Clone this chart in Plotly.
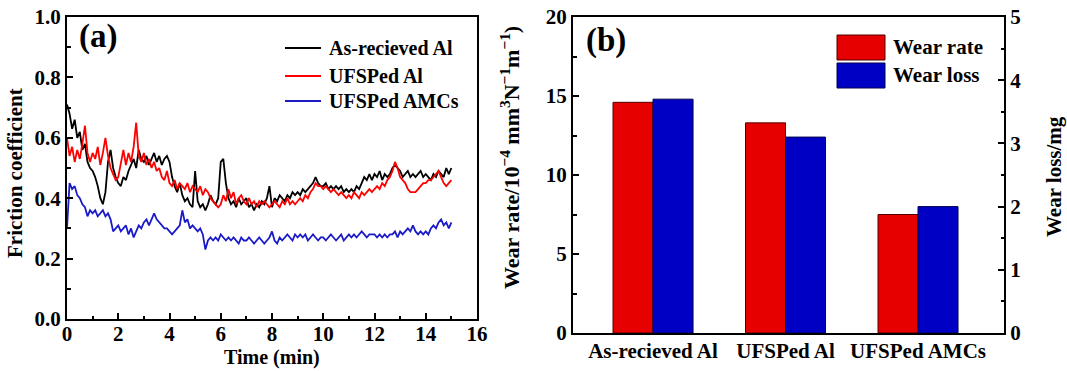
import plotly.graph_objects as go

# ---- (a) friction coefficient vs sliding time, sampled every 0.1 min ----
time_min = [round(0.1 * i, 1) for i in range(151)]

as_received_al = [
    0.71, 0.68, 0.63, 0.66, 0.60, 0.62, 0.56, 0.58, 0.52, 0.50,
    0.49, 0.47, 0.44, 0.40, 0.38, 0.42, 0.52, 0.56, 0.50, 0.47,
    0.45, 0.44, 0.47, 0.46, 0.49, 0.51, 0.53, 0.50, 0.56, 0.53,
    0.52, 0.54, 0.51, 0.53, 0.55, 0.52, 0.54, 0.51, 0.53, 0.54,
    0.52, 0.47, 0.44, 0.42, 0.45, 0.41, 0.39, 0.40, 0.38, 0.37,
    0.49, 0.39, 0.37, 0.38, 0.36, 0.38, 0.41, 0.39, 0.38, 0.40,
    0.52, 0.53, 0.45, 0.40, 0.38, 0.39, 0.37, 0.40, 0.38, 0.39,
    0.40, 0.37, 0.38, 0.36, 0.38, 0.37, 0.39, 0.38, 0.40, 0.44,
    0.37, 0.40, 0.39, 0.41, 0.40, 0.39, 0.41, 0.40, 0.42, 0.41,
    0.42, 0.41, 0.43, 0.42, 0.43, 0.44, 0.45, 0.47, 0.45, 0.44,
    0.44, 0.45, 0.43, 0.44, 0.43, 0.44, 0.43, 0.44, 0.42, 0.43,
    0.42, 0.43, 0.42, 0.44, 0.43, 0.45, 0.47, 0.46, 0.48, 0.46,
    0.48, 0.47, 0.49, 0.46, 0.48, 0.47, 0.48, 0.50, 0.51, 0.50,
    0.49, 0.47, 0.48, 0.49, 0.47, 0.48, 0.47, 0.48, 0.49, 0.47,
    0.48, 0.47, 0.46, 0.48, 0.47, 0.49, 0.48, 0.47, 0.50, 0.48,
    0.50,
]

ufsped_al = [
    0.60, 0.54, 0.57, 0.52, 0.56, 0.53, 0.58, 0.64, 0.55, 0.52,
    0.55, 0.53, 0.57, 0.51, 0.55, 0.60, 0.54, 0.50, 0.48, 0.46,
    0.47, 0.52, 0.56, 0.51, 0.55, 0.52, 0.57, 0.65, 0.54, 0.52,
    0.55, 0.51, 0.53, 0.50, 0.52, 0.49, 0.50, 0.47, 0.46, 0.49,
    0.45, 0.44, 0.46, 0.43, 0.45, 0.44, 0.43, 0.45, 0.42, 0.44,
    0.43, 0.42, 0.44, 0.41, 0.43, 0.42, 0.40, 0.39, 0.38, 0.37,
    0.38, 0.41, 0.39, 0.43, 0.40, 0.42, 0.38, 0.40, 0.41, 0.39,
    0.38, 0.40, 0.38, 0.39, 0.37, 0.39, 0.38, 0.39, 0.38, 0.37,
    0.38, 0.39, 0.38, 0.37, 0.39, 0.38, 0.40, 0.38, 0.39, 0.38,
    0.39, 0.40, 0.39, 0.41, 0.40, 0.42, 0.43, 0.45, 0.44, 0.44,
    0.43, 0.44, 0.43, 0.42, 0.43, 0.42, 0.41, 0.42, 0.41, 0.40,
    0.41, 0.40, 0.42, 0.41, 0.40, 0.42, 0.41, 0.42, 0.43, 0.42,
    0.43, 0.44, 0.43, 0.45, 0.44, 0.46, 0.47, 0.49, 0.52, 0.50,
    0.47, 0.46, 0.45, 0.43, 0.42, 0.42, 0.42, 0.43, 0.44, 0.45,
    0.45, 0.46, 0.46, 0.47, 0.48, 0.49, 0.47, 0.45, 0.44, 0.45,
    0.46,
]

ufsped_amcs = [
    0.30, 0.45, 0.43, 0.44, 0.41, 0.40, 0.38, 0.37, 0.34, 0.36,
    0.35, 0.36, 0.34, 0.35, 0.36, 0.34, 0.35, 0.33, 0.29, 0.30,
    0.31, 0.29, 0.30, 0.31, 0.28, 0.30, 0.27, 0.29, 0.31, 0.30,
    0.32, 0.33, 0.31, 0.33, 0.35, 0.33, 0.32, 0.31, 0.30, 0.30,
    0.29, 0.28, 0.29, 0.30, 0.31, 0.36, 0.32, 0.33, 0.30, 0.31,
    0.30, 0.29, 0.30, 0.28, 0.23, 0.26, 0.27, 0.26, 0.27, 0.26,
    0.28, 0.27, 0.26, 0.27, 0.26, 0.27, 0.26, 0.25, 0.27, 0.26,
    0.26, 0.27, 0.26, 0.25, 0.26, 0.27, 0.26, 0.25, 0.26, 0.27,
    0.29, 0.26, 0.25, 0.27, 0.26, 0.27, 0.28, 0.27, 0.26, 0.28,
    0.27, 0.28, 0.27, 0.28, 0.26, 0.27, 0.28, 0.27, 0.26, 0.27,
    0.27, 0.26, 0.27, 0.28, 0.27, 0.26, 0.27, 0.28, 0.26, 0.27,
    0.28, 0.27, 0.28, 0.27, 0.28, 0.29, 0.28, 0.27, 0.28, 0.28,
    0.28, 0.27, 0.28, 0.27, 0.28, 0.27, 0.28, 0.28, 0.29, 0.27,
    0.29, 0.28, 0.29, 0.30, 0.29, 0.31, 0.29, 0.28, 0.29, 0.28,
    0.29, 0.28, 0.30, 0.31, 0.30, 0.32, 0.33, 0.31, 0.32, 0.30,
    0.32,
]

friction_names = ["As-recieved Al", "UFSPed Al", "UFSPed AMCs"]
friction_colors = ["#000000", "#ff0000", "#1a1ac8"]

# ---- (b) wear rate and wear loss ----
materials = ["As-recieved Al", "UFSPed Al", "UFSPed AMCs"]
wear_rate = [14.6, 13.3, 7.5]      # 10^-4 mm^3 N^-1 m^-1
wear_loss = [3.7, 3.1, 2.0]        # mg

W, H = 1067, 371
FONT = "Liberation Serif"


def px_x(p):
    return p / W


def px_y(p):
    return 1 - p / H


fig = go.Figure()

for name, ys, col in zip(friction_names, [as_received_al, ufsped_al, ufsped_amcs], friction_colors):
    fig.add_trace(go.Scatter(x=time_min, y=ys, mode="lines", name=name,
                             line=dict(color=col, width=1.8), showlegend=False,
                             xaxis="x", yaxis="y"))

bar_w = 0.302
fig.add_trace(go.Bar(x=materials, y=wear_rate, name="Wear rate", width=bar_w, offset=-bar_w,
                     marker=dict(color="#e60000", line=dict(color="#500000", width=1)),
                     showlegend=False, xaxis="x2", yaxis="y2"))
fig.add_trace(go.Bar(x=materials, y=wear_loss, name="Wear loss", width=bar_w, offset=0,
                     marker=dict(color="#0000c4", line=dict(color="#000050", width=1)),
                     showlegend=False, xaxis="x2", yaxis="y3"))

FS = 21
tickfont = dict(family=FONT, size=FS, color="black", weight="bold")
axis_common = dict(showline=True, linecolor="black", linewidth=2, ticks="inside",
                   tickcolor="black", tickwidth=2, ticklen=6, showgrid=False,
                   zeroline=False, tickfont=tickfont, automargin=False)
minor_common = dict(ticks="inside", ticklen=3.5, tickwidth=2, tickcolor="black")

fig.update_layout(
    width=W, height=H,
    margin=dict(l=0, r=0, t=0, b=0),
    paper_bgcolor="white", plot_bgcolor="white",
    barmode="overlay",
    xaxis=dict(domain=[px_x(67), px_x(477)], range=[0, 16], dtick=2, mirror=True,
               ticklabelstandoff=-5,
               minor=dict(dtick=1, **minor_common), anchor="y", **axis_common),
    yaxis=dict(domain=[px_y(319), px_y(17)], range=[0, 1.0], dtick=0.2, tickformat=".1f",
               mirror=True, minor=dict(dtick=0.1, **minor_common),
               anchor="x", **axis_common),
    xaxis2=dict(domain=[px_x(573), px_x(1004)], range=[-0.604, 2.649], type="category",
                mirror=True, anchor="y2", ticklabelstandoff=-2,
                **{**axis_common, "ticks": ""}),
    yaxis2=dict(domain=[px_y(333), px_y(17)], range=[0, 20], dtick=5,
                minor=dict(dtick=2.5, **minor_common),
                anchor="x2", **axis_common),
    yaxis3=dict(range=[0, 5], dtick=1, overlaying="y2", side="right", anchor="x2",
                minor=dict(dtick=0.5, **minor_common), **axis_common),
)

bold = dict(family=FONT, color="black", weight="bold")
annotations = [
    dict(text="Friction coefficient", x=px_x(15), y=px_y(173), textangle=-90,
         font=dict(size=FS, **bold)),
    dict(text="Time (min)", x=px_x(272), y=px_y(357), font=dict(size=20, **bold)),
    dict(text="Wear rate/10<sup>−4</sup> mm<sup>3</sup>N<sup>−1</sup>m<sup>−1</sup>)",
         x=px_x(510), y=px_y(158), textangle=-90, font=dict(size=22, **bold)),
    dict(text="Wear loss/mg", x=px_x(1054), y=px_y(177), textangle=-90,
         font=dict(size=FS, **bold)),
    dict(text="(a)", x=px_x(98), y=px_y(37), font=dict(size=33, **bold)),
    dict(text="(b)", x=px_x(606), y=px_y(40), font=dict(size=33, **bold)),
]

shapes = []
# legend of panel (a)
for i, (name, col) in enumerate(zip(friction_names, friction_colors)):
    yy = [48, 76, 101][i]
    shapes.append(dict(type="line", xref="paper", yref="paper",
                       x0=px_x(285), x1=px_x(321), y0=px_y(yy), y1=px_y(yy),
                       line=dict(color=col, width=1.8)))
    annotations.append(dict(text=name, x=px_x(327), y=px_y(yy), xanchor="left",
                            font=dict(size=20, **bold)))

# legend of panel (b)
for i, (name, col, edge) in enumerate([("Wear rate", "#e60000", "#500000"),
                                       ("Wear loss", "#0000c4", "#000050")]):
    top, bot = [(35, 60), (63, 88)][i]
    shapes.append(dict(type="rect", xref="paper", yref="paper",
                       x0=px_x(837), x1=px_x(885), y0=px_y(bot), y1=px_y(top),
                       fillcolor=col, line=dict(color=edge, width=1)))
    annotations.append(dict(text=name, x=px_x(891), y=px_y((top + bot) / 2), xanchor="left",
                            font=dict(size=21, **bold)))

for a in annotations:
    a.setdefault("xref", "paper")
    a.setdefault("yref", "paper")
    a.setdefault("xanchor", "center")
    a.setdefault("yanchor", "middle")
    a.setdefault("showarrow", False)

fig.update_layout(annotations=annotations, shapes=shapes)

fig.write_html("out.html")
